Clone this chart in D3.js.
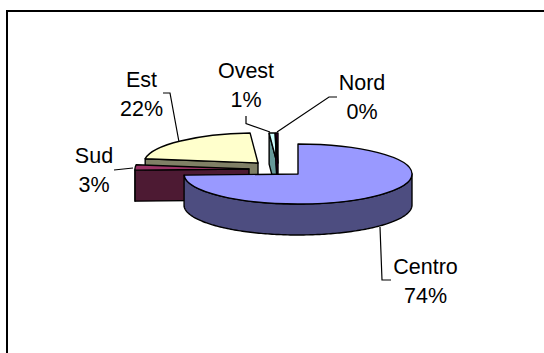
<!DOCTYPE html>
<html>
<head>
<meta charset="utf-8">
<script src="https://cdn.jsdelivr.net/npm/d3@7"></script>
<style>
body { margin: 0; background: #fff; }
svg { display: block; }
text { font-family: "Liberation Sans", Arial, sans-serif; font-size: 21.5px; fill: #000; text-anchor: middle; }
</style>
</head>
<body>
<div id="chart"></div>
<script>
// clockwise from 12 o'clock
var categories = ["Centro", "Sud", "Est", "Ovest", "Nord"]
var values = [74.4, 2.9, 21.6, 0.8, 0.3]
var topColors = ["#9999ff", "#993366", "#ffffcc", "#ccffff", "#660066"]
var sideColors = ["#4d4d80", "#4d1a33", "#808066", "#669999", "#330033"]

// exploded offset of each slice
var offsetX = [0, -49, -40, -21, -20]
var offsetY = [0, -5, -11, -11, -11]
var drawOrder = ["Est", "Sud", "Ovest", "Nord", "Centro"]

// label centre and the two baselines, then the leader line
var labelX = [425.5, 94, 141.5, 246, 362]
var labelY = [274, 163, 87, 78, 90]
var leaders = [
    [[380, 227], [382, 280], [391, 280]],
    [[114, 170], [133, 168]],
    [[163, 93], [170, 93], [179, 142]],
    [[246, 116], [246, 123.5], [270, 132]],
    [[337, 97], [329, 97], [277, 132]]
]

var width = 544
var height = 353
var cx = 298
var cy = 174
var rx = 114
var ry = 30
var depth = 31

var svg = d3.select("#chart")
    .append("svg")
    .attr("width", width)
    .attr("height", height)

svg.append("path")
    .attr("d", "M7," + height + "V11H" + width)
    .attr("fill", "none")
    .attr("stroke", "#000")
    .attr("stroke-width", 2)

var pie = d3.pie().sort(null).value((d) => {return d.value})
var slices = pie(categories.map((c, i) => {return {name: c, value: values[i], index: i}}))

var arc = d3.arc().innerRadius(0).outerRadius(rx)
var line = d3.line()

function rim(x, y, angle) {
    return [x + rx * Math.sin(angle), y - ry * Math.cos(angle)]
}

// front wall of the slice, only the part between 90 and 270 degrees shows
function wall(x, y, a0, a1) {
    var from = Math.max(a0, Math.PI / 2)
    var to = Math.min(a1, Math.PI * 3 / 2)
    if (from >= to) return null
    var upper = d3.range(from, to, 0.02).concat([to]).map((a) => {return rim(x, y, a)})
    var lower = upper.map((p) => {return [p[0], p[1] + depth]}).reverse()
    return line(upper.concat(lower)) + "Z"
}

// cut face at the start of the slice, faces the viewer on the left half
function face(x, y, a0) {
    if (a0 <= Math.PI) return null
    var p = rim(x, y, a0)
    return line([[x, y], p, [p[0], p[1] + depth], [x, y + depth]]) + "Z"
}

var pieces = svg.append("g")
    .attr("stroke", "#000")
    .attr("stroke-width", 1.4)
    .attr("stroke-linejoin", "round")

drawOrder.forEach((name) => {
    var s = slices[categories.indexOf(name)]
    var i = s.data.index
    var x = cx + offsetX[i]
    var y = cy + offsetY[i]
    var g = pieces.append("g")

    ;[wall(x, y, s.startAngle, s.endAngle), face(x, y, s.startAngle)].forEach((d) => {
        if (d) g.append("path").attr("d", d).attr("fill", sideColors[i])
    })

    g.append("path")
        .attr("d", arc(s))
        .attr("transform", "translate(" + x + "," + y + ") scale(1," + (ry / rx) + ")")
        .attr("vector-effect", "non-scaling-stroke")
        .attr("fill", topColors[i])
})

svg.append("g")
    .selectAll("path")
    .data(leaders)
    .enter()
    .append("path")
    .attr("d", (d) => {return line(d)})
    .attr("fill", "none")
    .attr("stroke", "#000")
    .attr("stroke-width", 1.2)

var labels = svg.append("g")
    .selectAll("g")
    .data(slices)
    .enter()
    .append("g")

labels.append("text")
    .attr("x", (d) => {return labelX[d.data.index]})
    .attr("y", (d) => {return labelY[d.data.index]})
    .text((d) => {return d.data.name})

labels.append("text")
    .attr("x", (d) => {return labelX[d.data.index]})
    .attr("y", (d) => {return labelY[d.data.index] + 28.5})
    .text((d) => {return d3.format(".0f")(d.data.value) + "%"})
</script>
</body>
</html>
